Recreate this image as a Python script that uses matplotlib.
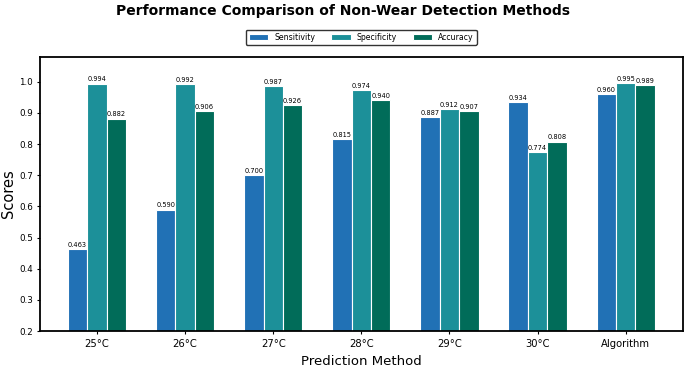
import matplotlib
matplotlib.use('Agg')
import matplotlib.pyplot as plt
import numpy as np

methods = ['25°C', '26°C', '27°C', '28°C', '29°C', '30°C', 'Algorithm']
sensitivity = [0.463, 0.590, 0.700, 0.815, 0.887, 0.934, 0.960]
specificity = [0.994, 0.992, 0.987, 0.974, 0.912, 0.774, 0.995]
accuracy = [0.882, 0.906, 0.926, 0.940, 0.907, 0.808, 0.989]

series = [('Sensitivity', sensitivity, '#2171b5'),
          ('Specificity', specificity, '#1c9099'),
          ('Accuracy', accuracy, '#016c59')]

fig, ax = plt.subplots(figsize=(6.85, 3.67), dpi=100)
fig.subplots_adjust(left=0.058, right=0.997, top=0.845, bottom=0.098)

x = np.arange(len(methods))
w = 0.22
for i, (name, vals, col) in enumerate(series):
  bars = ax.bar(x + (i - 1) * w, vals, w, label=name, color=col,
                edgecolor='white', linewidth=0.8)
  for b, v in zip(bars, vals):
    ax.text(b.get_x() + b.get_width() / 2, v + 0.004, '%.3f' % v,
            ha='center', va='bottom', fontsize=4.8)

ax.set_xticks(x)
ax.set_xticklabels(methods, fontsize=7.2)
ax.tick_params(axis='y', labelsize=6.3, pad=2.5)
ax.tick_params(length=2.5)
ax.set_ylim(0.2, 1.08)
ax.set_xlim(-0.65, 6.65)
ax.set_xlabel('Prediction Method', fontsize=9.5)
ax.set_ylabel('Scores', fontsize=10.5)
ax.yaxis.set_label_coords(-0.037, 0.5)
for s in ax.spines.values():
  s.set_linewidth(1.3)

fig.suptitle('Performance Comparison of Non-Wear Detection Methods',
             fontsize=10, fontweight='bold', y=0.99)
ax.legend(loc='lower center', bbox_to_anchor=(0.5, 1.03), ncol=3,
          fontsize=5.6, frameon=True, edgecolor='black', fancybox=True,
          handlelength=2.5)

fig.savefig('out.png', dpi=100)
